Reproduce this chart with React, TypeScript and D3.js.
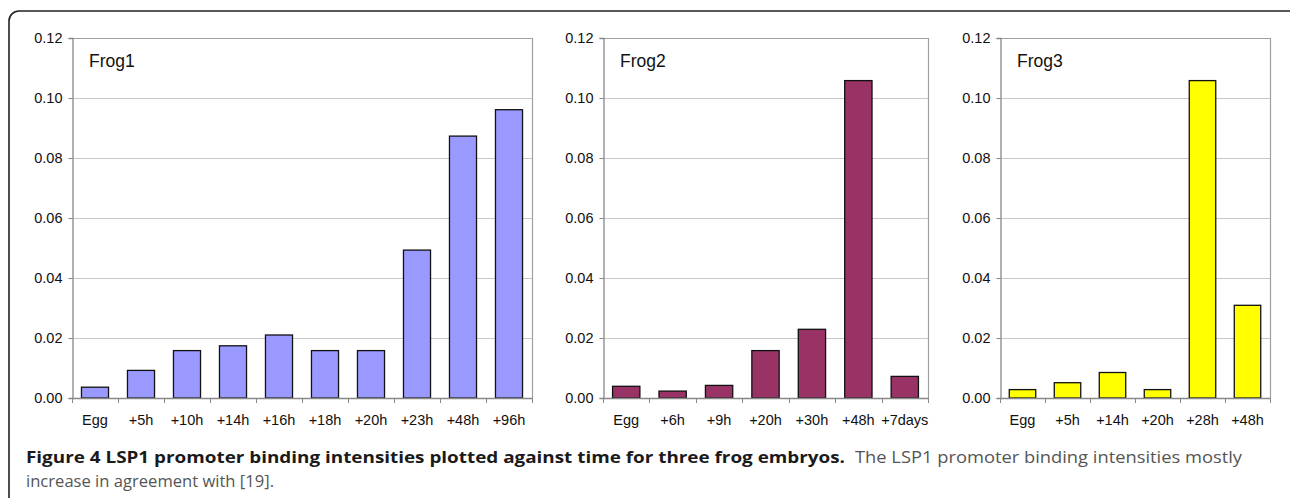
import React, { useEffect, useRef } from 'react';
import * as d3 from 'd3';

const frog1Times = ['Egg', '+5h', '+10h', '+14h', '+16h', '+18h', '+20h', '+23h', '+48h', '+96h'];
const frog1Values = [0.0036, 0.0092, 0.0158, 0.0174, 0.021, 0.0158, 0.0158, 0.0493, 0.0873, 0.0961];

const frog2Times = ['Egg', '+6h', '+9h', '+20h', '+30h', '+48h', '+7days'];
const frog2Values = [0.0039, 0.0023, 0.0042, 0.0158, 0.0229, 0.1058, 0.0072];

const frog3Times = ['Egg', '+5h', '+14h', '+20h', '+28h', '+48h'];
const frog3Values = [0.0028, 0.0051, 0.0085, 0.0028, 0.1058, 0.0309];

const yTicks = [0, 0.02, 0.04, 0.06, 0.08, 0.1, 0.12];

const captionBold = 'Figure 4 LSP1 promoter binding intensities plotted against time for three frog embryos.';
const captionRest = 'The LSP1 promoter binding intensities mostly';
const captionLine2 = 'increase in agreement with [19].';

const W = 1290;
const H = 498;
const TOP = 38;
const BOTTOM = 398;
const axisFont = '"Liberation Sans", Arial, sans-serif';

// panel placement in px (layout only)
const panels = [
  { name: 'Frog1', times: frog1Times, values: frog1Values, fill: '#9999ff', x0: 72, x1: 532 },
  { name: 'Frog2', times: frog2Times, values: frog2Values, fill: '#993366', x0: 603, x1: 928 },
  { name: 'Frog3', times: frog3Times, values: frog3Values, fill: '#ffff00', x0: 1000, x1: 1270 },
];

// Excel style 70% gap width
const GAP = 1 - 1 / 1.7;

function drawPanel(g, p) {
  const x = d3.scaleBand()
    .domain(p.times)
    .range([p.x0, p.x1])
    .paddingInner(GAP)
    .paddingOuter(GAP / 2);

  const y = d3.scaleLinear()
    .domain([0, 0.12])
    .range([BOTTOM, TOP]);

  // gridlines
  g.append('g')
    .selectAll('line')
    .data(yTicks.slice(1))
    .join('line')
      .attr('x1', p.x0)
      .attr('x2', p.x1)
      .attr('y1', d => y(d) + 0.5)
      .attr('y2', d => y(d) + 0.5)
      .attr('stroke', '#c8c8c8')
      .attr('stroke-width', 1);

  // frame (top & right)
  g.append('path')
    .attr('d', `M${p.x0},${TOP + 0.5}H${p.x1 + 0.5}V${BOTTOM}`)
    .attr('fill', 'none')
    .attr('stroke', '#a0a0a0')
    .attr('stroke-width', 1.2);

  // bars
  g.append('g')
    .selectAll('rect')
    .data(p.values)
    .join('rect')
      .attr('x', (d, i) => x(p.times[i]))
      .attr('y', d => y(d))
      .attr('width', x.bandwidth())
      .attr('height', d => BOTTOM - y(d))
      .attr('fill', p.fill)
      .attr('stroke', '#111')
      .attr('stroke-width', 1.3);

  // y axis
  const yAxis = d3.axisLeft(y)
    .tickValues(yTicks)
    .tickFormat(d3.format('.2f'))
    .tickSize(4)
    .tickPadding(6);

  const ya = g.append('g')
    .attr('transform', `translate(${p.x0 + 0.5},0)`)
    .call(yAxis);
  ya.select('.domain').attr('stroke', '#888').attr('stroke-width', 1.3);
  ya.selectAll('.tick line').attr('stroke', '#888');
  ya.selectAll('text')
    .attr('fill', '#111')
    .style('font-family', axisFont)
    .style('font-size', '14.5px');

  // x axis line + ticks between categories
  const step = x.step();
  const edges = p.times.map(t => x(t) - (step - x.bandwidth()) / 2).concat([p.x1]);

  g.append('line')
    .attr('x1', p.x0)
    .attr('x2', p.x1 + 1)
    .attr('y1', BOTTOM + 0.5)
    .attr('y2', BOTTOM + 0.5)
    .attr('stroke', '#888')
    .attr('stroke-width', 1.3);

  g.append('g')
    .selectAll('line')
    .data(edges)
    .join('line')
      .attr('x1', d => Math.round(d) + 0.5)
      .attr('x2', d => Math.round(d) + 0.5)
      .attr('y1', BOTTOM)
      .attr('y2', BOTTOM + 5)
      .attr('stroke', '#888');

  g.append('g')
    .selectAll('text')
    .data(p.times)
    .join('text')
      .attr('x', d => x(d) + x.bandwidth() / 2)
      .attr('y', BOTTOM + 27)
      .attr('text-anchor', 'middle')
      .attr('fill', '#111')
      .style('font-family', axisFont)
      .style('font-size', '14.5px')
      .text(d => d);

  g.append('text')
    .attr('x', p.x0 + 17)
    .attr('y', 67)
    .attr('fill', '#111')
    .style('font-family', axisFont)
    .style('font-size', '17.5px')
    .text(p.name);
}

export default function App() {
  const ref = useRef(null);

  useEffect(() => {
    const svg = d3.select(ref.current);
    svg.selectAll('*').remove();

    svg.append('rect')
      .attr('width', W)
      .attr('height', H)
      .attr('fill', '#fff');

    // outer rounded frame, bottom runs off the page
    svg.append('rect')
      .attr('x', 9)
      .attr('y', 11)
      .attr('width', 1290)
      .attr('height', 620)
      .attr('rx', 10)
      .attr('fill', 'none')
      .attr('stroke', '#222')
      .attr('stroke-width', 1.6);

    panels.forEach(p => drawPanel(svg.append('g'), p));

    const cap = svg.append('g').style('font-family', '"Open Sans", "Noto Sans", sans-serif');
    cap.append('text')
      .attr('x', 26)
      .attr('y', 463)
      .attr('fill', '#1a1a1a')
      .attr('font-weight', 700)
      .attr('font-size', 15.5)
      .attr('textLength', 819)
      .attr('lengthAdjust', 'spacingAndGlyphs')
      .text(captionBold);
    cap.append('text')
      .attr('x', 855)
      .attr('y', 463)
      .attr('fill', '#555')
      .attr('font-size', 15.5)
      .attr('textLength', 387)
      .attr('lengthAdjust', 'spacingAndGlyphs')
      .text(captionRest);
    cap.append('text')
      .attr('x', 26)
      .attr('y', 487)
      .attr('fill', '#555')
      .attr('font-size', 15.5)
      .attr('textLength', 248)
      .attr('lengthAdjust', 'spacingAndGlyphs')
      .text(captionLine2);
  }, []);

  return (
    <div style={{ position: 'absolute', left: 0, top: 0 }}>
      <svg ref={ref} width={W} height={H} style={{ display: 'block' }}></svg>
    </div>
  );
}
